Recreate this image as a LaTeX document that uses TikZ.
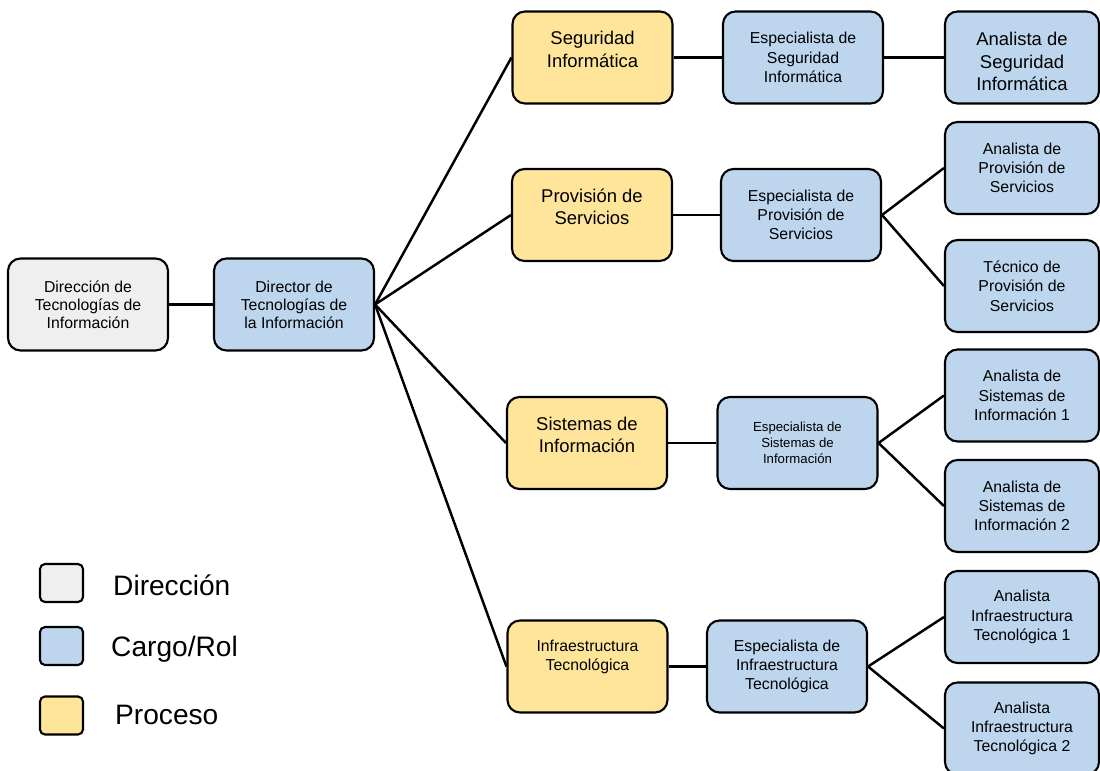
\documentclass[tikz,border=0pt]{standalone}
\usepackage{fontspec}
\setmainfont{Liberation Sans}
\usepackage{xcolor}
\usetikzlibrary{positioning}

\definecolor{dirgray}{RGB}{239,239,239}
\definecolor{rolblue}{RGB}{189,214,238}
\definecolor{procyellow}{RGB}{255,229,153}

\begin{document}
\begin{tikzpicture}[
    box/.style={rectangle, draw=black, line width=1.2pt, rounded corners=0.25cm, minimum width=3.2cm, minimum height=1.84cm, align=center, font=\fontsize{9}{11}\selectfont},
    direccion/.style={box, fill=dirgray, font=\fontsize{9}{10.3}\selectfont},
    cargo/.style={box, fill=rolblue},
    analista/.style={cargo, minimum width=3.08cm},
    proceso/.style={box, fill=procyellow},
    proctext/.style={align=center, yshift=0.16cm, font=\fontsize{10.5}{12.8}\selectfont},
    link/.style={line width=1.4pt},
    legbox/.style={rectangle, draw=black, line width=1.2pt, rounded corners=0.1cm, minimum width=0.86cm, minimum height=0.76cm},
    legtext/.style={anchor=west, font=\fontsize{16}{19}\selectfont}
]
    \useasboundingbox (0,0) rectangle (22,15.4);

    % Direction and director
    \node[direccion] (dir) at (1.76,9.31) {Dirección de\\Tecnologías de\\Información};
    \node[cargo, font=\fontsize{9}{10.3}\selectfont] (dtor) at (5.88,9.31) {Director de\\Tecnologías de\\la Información};

    % Processes
    \node[proceso, label={[proctext]center:Seguridad\\Informática}] (seg) at (11.85,14.25) {};
    \node[proceso, label={[proctext]center:Provisión de\\Servicios}] (prov) at (11.84,11.10) {};
    \node[proceso, label={[proctext]center:Sistemas de\\Información}] (sis) at (11.74,6.54) {};
    \node[proceso, label={[proctext, yshift=0.04cm, font=\fontsize{9}{10.8}\selectfont]center:Infraestructura\\Tecnológica}] (infra) at (11.75,2.07) {};

    % Specialists
    \node[cargo] (espseg) at (16.06,14.25) {Especialista de\\Seguridad\\Informática};
    \node[cargo] (espprov) at (16.02,11.10) {Especialista de\\Provisión de\\Servicios};
    \node[cargo, font=\fontsize{7.5}{9.1}\selectfont] (espsis) at (15.95,6.54) {Especialista de\\Sistemas de\\Información};
    \node[cargo] (espinf) at (15.74,2.07) {Especialista de\\Infraestructura\\Tecnológica};

    % Analysts
    \node[analista, label={[proctext, yshift=-0.24cm, font=\fontsize{10.5}{13}\selectfont]center:Analista de\\Seguridad\\Informática}] (anseg) at (20.44,14.25) {};
    \node[analista] (anprov) at (20.44,12.04) {Analista de\\Provisión de\\Servicios};
    \node[analista] (tecprov) at (20.44,9.68) {Técnico de\\Provisión de\\Servicios};
    \node[analista] (ansis1) at (20.44,7.49) {Analista de\\Sistemas de\\Información 1};
    \node[analista] (ansis2) at (20.44,5.28) {Analista de\\Sistemas de\\Información 2};
    \node[analista] (aninf1) at (20.44,3.06) {Analista\\Infraestructura\\Tecnológica 1};
    \node[analista] (aninf2) at (20.44,0.83) {Analista\\Infraestructura\\Tecnológica 2};

    % Connections
    \draw[link] (dir.east) -- (dtor.west);
    \draw[link] (dtor.east) -- (seg.west);
    \draw[link] (dtor.east) -- (prov.west);
    \draw[link] (dtor.east) -- (sis.west);
    \draw[link] (dtor.east) -- (infra.west);
    \draw[link] (seg.east) -- (espseg.west);
    \draw[link] (prov.east) -- (espprov.west);
    \draw[link] (sis.east) -- (espsis.west);
    \draw[link] (infra.east) -- (espinf.west);
    \draw[link] (espseg.east) -- (anseg.west);
    \draw[link] (espprov.east) -- (anprov.west);
    \draw[link] (espprov.east) -- (tecprov.west);
    \draw[link] (espsis.east) -- (ansis1.west);
    \draw[link] (espsis.east) -- (ansis2.west);
    \draw[link] (espinf.east) -- (aninf1.west);
    \draw[link] (espinf.east) -- (aninf2.west);

    % Legend
    \node[legbox, fill=dirgray] (legdir) at (1.23,3.74) {};
    \node[legbox, fill=rolblue] (legrol) at (1.23,2.48) {};
    \node[legbox, fill=procyellow] (legproc) at (1.23,1.09) {};
    \node[legtext] (txtdir) at (2.14,3.70) {Dirección};
    \node[legtext] (txtrol) at (2.10,2.42) {Cargo/Rol};
    \node[legtext] (txtproc) at (2.18,1.10) {Proceso};
\end{tikzpicture}
\end{document}
